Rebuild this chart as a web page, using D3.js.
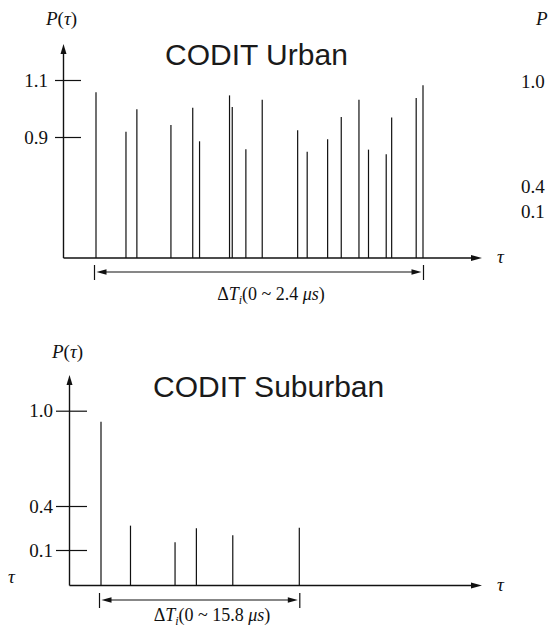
<!DOCTYPE html>
<html lang="en">
<head>
    <meta charset="UTF-8">
    <title>CODIT power delay profiles</title>
    <script src="https://d3js.org/d3.v7.min.js"></script>
    <style>
        body { margin: 0; background: #fff; }
        svg { display: block; }
        .serif { font-family: "Liberation Serif", "Times New Roman", serif; font-size: 19px; fill: #111; }
        .title { font-family: "Liberation Sans", Arial, sans-serif; font-size: 30px; fill: #1a1a1a; }
    </style>
    <script>
        // delays in microseconds, relative power
        const urbanDelays = [0.00, 0.22, 0.30, 0.55, 0.71, 0.76, 0.98, 1.00, 1.10, 1.22,
                             1.48, 1.55, 1.70, 1.80, 1.93, 2.00, 2.13, 2.17, 2.35, 2.40];
        const urbanPower = [1.057, 0.918, 0.997, 0.942, 1.003, 0.868, 1.046, 1.005, 0.808, 1.031,
                            0.924, 0.791, 0.883, 0.970, 1.031, 0.806, 0.771, 0.968, 1.037, 1.082];
        const urbanTicks = [0.9, 1.1];

        const suburbanDelays = [0.0, 2.35, 5.9, 7.6, 10.5, 15.8];
        const suburbanPower = [0.93, 0.266, 0.152, 0.248, 0.20, 0.252];
        const suburbanTicks = [0.1, 0.4, 1.0];

        // neighbouring figure, cut off at the page edges
        const cutTicks = ["1.0", "0.4", "0.1"];

        function drawPanel(svg, p) {
            const g = svg.append("g");
            const x = d3.scaleLinear().domain([0, p.maxDelay]).range(p.xRange);
            const y = d3.scaleLinear().domain(p.yDomain).range(p.yRange);
            const base = y(0);

            // vertical axis with arrow
            g.append("line")
                .attr("x1", p.axisX).attr("x2", p.axisX)
                .attr("y1", base).attr("y2", p.yTop + 8)
                .attr("stroke", "#111").attr("stroke-width", 1.4);
            g.append("path")
                .attr("d", `M${p.axisX},${p.yTop} l-3,10 l6,0 z`)
                .attr("fill", "#111");

            // horizontal axis with arrow
            g.append("line")
                .attr("x1", p.axisX).attr("x2", 474)
                .attr("y1", base).attr("y2", base)
                .attr("stroke", "#111").attr("stroke-width", 1.4);
            g.append("path")
                .attr("d", `M482,${base} l-11,-3 l0,6 z`)
                .attr("fill", "#111");

            // ticks crossing the axis
            const yAxis = g.append("g")
                .attr("transform", `translate(${p.tickLeft},0)`)
                .call(d3.axisLeft(y).tickValues(p.ticks).tickSize(-p.tickLen).tickPadding(p.tickPad)
                    .tickFormat(d3.format(".1f")));
            yAxis.select(".domain").remove();
            yAxis.selectAll(".tick line").attr("stroke", "#111").attr("stroke-width", 1.2);
            yAxis.selectAll(".tick text")
                .attr("class", "serif")
                .attr("font-family", "Liberation Serif, Times New Roman, serif")
                .attr("font-size", 19).attr("fill", "#111");

            // impulses
            const taps = p.delays.map((d, i) => ({delay: d, power: p.power[i]}));
            g.selectAll(".tap")
                .data(taps)
                .join("line")
                .attr("class", "tap")
                .attr("x1", d => x(d.delay)).attr("x2", d => x(d.delay))
                .attr("y1", base).attr("y2", d => y(d.power))
                .attr("stroke", "#111").attr("stroke-width", 1.2);

            // P(tau) label
            const pl = g.append("text").attr("class", "serif")
                .attr("x", p.pLabel[0]).attr("y", p.pLabel[1]);
            pl.append("tspan").attr("font-style", "italic").text("P");
            pl.append("tspan").text("(");
            pl.append("tspan").attr("font-style", "italic").text("τ");
            pl.append("tspan").text(")");

            g.append("text").attr("class", "serif").attr("font-style", "italic")
                .attr("x", 497).attr("y", base + 5).text("τ");

            g.append("text").attr("class", "title")
                .attr("x", p.titleX).attr("y", p.titleY).text(p.title);

            // delay spread arrow
            const x0 = x(0) - 1.5, x1 = x(p.maxDelay) + 0.5, ay = p.spanY;
            g.append("line").attr("x1", x0).attr("x2", x0).attr("y1", ay - 7).attr("y2", ay + 8)
                .attr("stroke", "#111").attr("stroke-width", 1.2);
            g.append("line").attr("x1", x1).attr("x2", x1).attr("y1", ay - 7).attr("y2", ay + 8)
                .attr("stroke", "#111").attr("stroke-width", 1.2);
            g.append("line").attr("x1", x0 + 8).attr("x2", x1 - 8).attr("y1", ay).attr("y2", ay)
                .attr("stroke", "#111").attr("stroke-width", 1.1);
            g.append("path").attr("d", `M${x0 + 2},${ay} l10,-2.8 l0,5.6 z`).attr("fill", "#111");
            g.append("path").attr("d", `M${x1 - 2},${ay} l-10,-2.8 l0,5.6 z`).attr("fill", "#111");

            const t = g.append("text").attr("class", "serif").attr("font-size", 18)
                .style("font-size", "18px")
                .attr("text-anchor", "middle")
                .attr("x", p.spanLabel[0]).attr("y", p.spanLabel[1]);
            t.append("tspan").text("Δ");
            t.append("tspan").attr("font-style", "italic").text("T");
            t.append("tspan").attr("font-style", "italic").style("font-size", "12px").attr("dy", 4).text("i");
            t.append("tspan").attr("dy", -4).text("(0 ~ " + p.maxDelay + " ");
            t.append("tspan").attr("font-style", "italic").text("μs");
            t.append("tspan").text(")");
        }

        document.addEventListener("DOMContentLoaded", function() {
            const svg = d3.select("svg").attr("width", 548).attr("height", 633);

            drawPanel(svg, {
                title: "CODIT Urban", titleX: 165, titleY: 65,
                delays: urbanDelays, power: urbanPower, ticks: urbanTicks,
                maxDelay: 2.4, xRange: [96, 423],
                yDomain: [0, 0.9, 1.1], yRange: [258, 137, 80],
                axisX: 63.5, yTop: 44, tickLeft: 55, tickLen: 26, tickPad: 7,
                pLabel: [46, 25], spanY: 272, spanLabel: [271, 300]
            });

            drawPanel(svg, {
                title: "CODIT Suburban", titleX: 153, titleY: 397,
                delays: suburbanDelays, power: suburbanPower, ticks: suburbanTicks,
                maxDelay: 15.8, xRange: [101, 299.3],
                yDomain: [0, 0.1, 0.4, 1.0], yRange: [585.5, 550, 506, 410.7],
                axisX: 69.5, yTop: 375, tickLeft: 56, tickLen: 31, tickPad: 3,
                pLabel: [52, 358], spanY: 600, spanLabel: [212, 621]
            });

            // cut-off labels of the neighbouring figures
            svg.selectAll(".cut")
                .data(cutTicks)
                .join("text")
                .attr("class", "serif cut")
                .attr("x", 521)
                .attr("y", (d, i) => [88, 193, 218][i])
                .text(d => d);
            svg.append("text").attr("class", "serif").attr("font-style", "italic")
                .attr("x", 536).attr("y", 25).text("P");
            svg.append("text").attr("class", "serif").attr("font-style", "italic")
                .attr("x", 8).attr("y", 583).text("τ");
        });
    </script>
</head>
<body>
    <svg></svg>
</body>
</html>
